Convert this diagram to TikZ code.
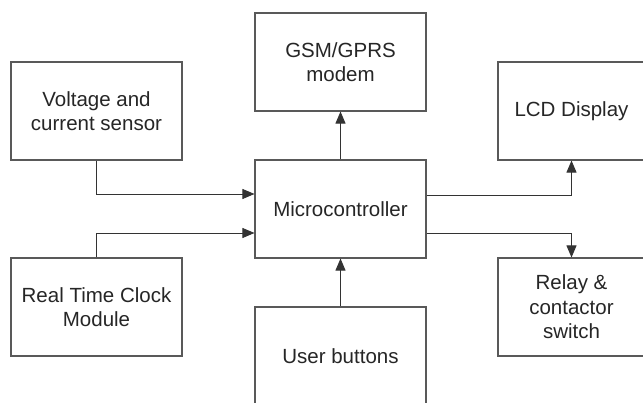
\documentclass[tikz,border=0pt]{standalone}
\usepackage{fontspec}
\setmainfont{Liberation Sans}
\usetikzlibrary{arrows.meta}
\begin{document}
\begin{tikzpicture}[x=1pt,y=-1pt,
  blk/.style={draw=black!65,line width=1.1pt,minimum height=98pt,inner sep=0pt,align=center,
    text=black!85,font=\fontsize{20.5}{24.5}\selectfont},
  wide/.style={blk,minimum width=171pt},
  narrow/.style={blk,minimum width=147pt},
  conn/.style={draw=black!80,line width=0.9pt,-{Triangle[length=12pt,width=10pt]}}]
\useasboundingbox (0,0) rectangle (643,403);
\clip (0,0) rectangle (643,403);
\fill[white] (0,0) rectangle (643,403);
\node[wide] (volt) at (96.5,111) {Voltage and\\current sensor};
\node[wide] (gsm) at (340.5,62) {GSM/GPRS\\modem};
\node[narrow] (lcd) at (571.5,111) {LCD Display};
\node[wide] (mcu) at (340.5,209) {Microcontroller};
\node[wide] (rtc) at (96.5,307) {Real Time Clock\\Module};
\node[wide] (user) at (340.5,356) {User buttons};
\node[narrow] (relay) at (571.5,307) {Relay \&\\contactor\\switch};
\draw[conn] (volt.south) |- ([yshift=15pt]mcu.west);
\draw[conn] (rtc.north) |- ([yshift=-24pt]mcu.west);
\draw[conn] (mcu.north) -- (gsm.south);
\draw[conn] (user.north) -- (mcu.south);
\draw[conn] ([yshift=14pt]mcu.east) -| (lcd.south);
\draw[conn] ([yshift=-24pt]mcu.east) -| (relay.north);
\end{tikzpicture}
\end{document}
